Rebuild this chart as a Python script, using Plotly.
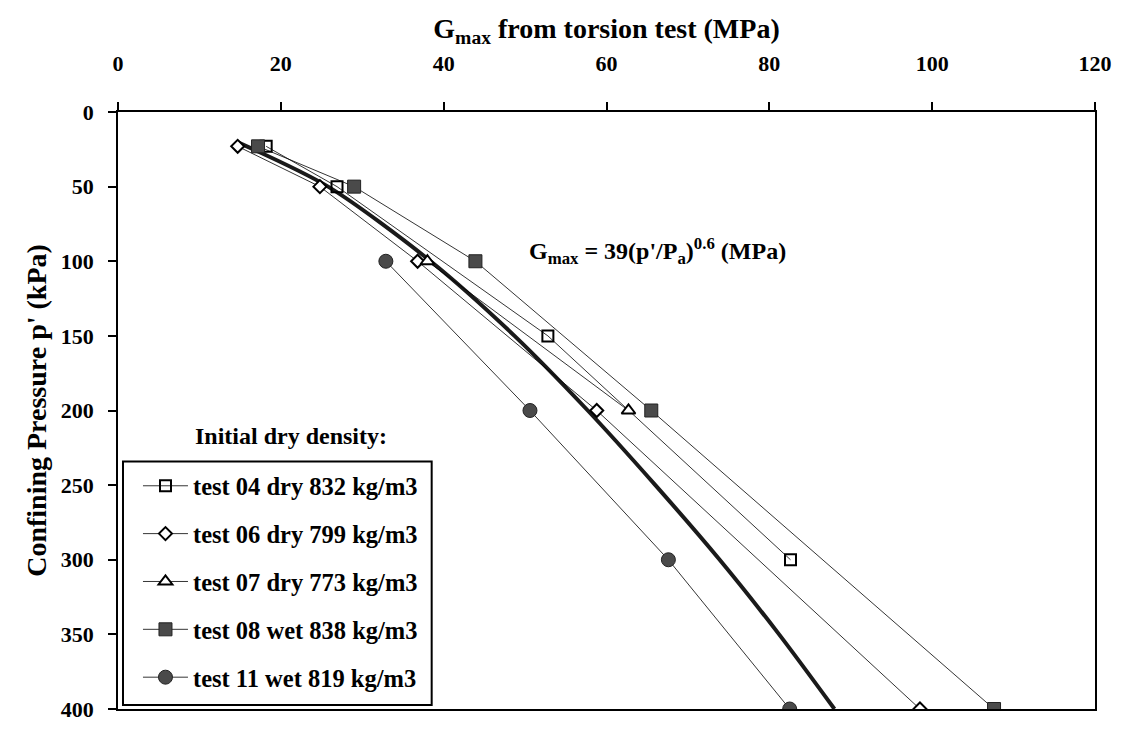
import plotly.graph_objects as go

# ---- data ----
p_04 = [23, 50, 150, 300]
G_04 = [18.2, 26.9, 52.8, 82.6]

p_06 = [23, 50, 100, 200, 400]
G_06 = [14.7, 24.8, 36.8, 58.8, 98.5]

p_07 = [100, 200]
G_07 = [38.0, 62.7]

p_08 = [23, 50, 100, 200, 400]
G_08 = [17.2, 29.0, 43.9, 65.5, 107.6]

p_11 = [100, 200, 300, 400]
G_11 = [32.9, 50.6, 67.6, 82.5]

# fitted curve G = 39 (p'/Pa)^0.6
p_fit = [20, 50, 100, 150, 200, 250, 300, 350, 400]
G_fit = [14.6, 25.8, 38.4, 48.7, 57.7, 66.0, 73.9, 81.2, 88.0]

names = ["test 04 dry 832 kg/m3", "test 06 dry 799 kg/m3", "test 07 dry 773 kg/m3",
         "test 08 wet 838 kg/m3", "test 11 wet 819 kg/m3"]

x_ticks = [0, 20, 40, 60, 80, 100, 120]
y_ticks = [0, 50, 100, 150, 200, 250, 300, 350, 400]

FONT = "Liberation Serif"

W, H = 1121, 731
ML, MR, MT, MB = 118, 25, 112, 9
PW, PH = W - ML - MR, H - MT - MB


def px_x(px):
    return (px - ML) / PW


def px_y(py):
    return (H - MB - py) / PH


fig = go.Figure()

fig.add_trace(go.Scatter(x=G_fit, y=p_fit, mode="lines",
                         line=dict(color="#1a1a1a", width=4, shape="spline", smoothing=0.8),
                         showlegend=False, hoverinfo="skip"))

series = [
    (p_04, G_04, names[0], dict(symbol="square-open", size=11, color="black", line=dict(width=2))),
    (p_06, G_06, names[1], dict(symbol="diamond", size=10, color="white", line=dict(color="black", width=2))),
    (p_07, G_07, names[2], dict(symbol="triangle-up", size=12, color="white", line=dict(color="black", width=2))),
    (p_08, G_08, names[3], dict(symbol="square", size=13, color="#4a4a4a", line=dict(color="#222", width=1))),
    (p_11, G_11, names[4], dict(symbol="circle", size=14, color="#4a4a4a", line=dict(color="#222", width=1))),
]
for i, (p, g, nm, mk) in enumerate(series):
    fig.add_trace(go.Scatter(x=g, y=p, mode="lines+markers", name=nm, legendgroup=f"g{i}",
                             line=dict(color="black", width=0.8), marker=mk))

fig.update_layout(
    width=W, height=H,
    margin=dict(l=ML, r=MR, t=MT, b=MB),
    paper_bgcolor="white", plot_bgcolor="white",
    font=dict(family=FONT, size=22, color="black", weight="bold"),
    xaxis=dict(side="top", range=[0, 120], tickvals=x_ticks, ticks="outside", ticklen=8, tickwidth=1.5,
               tickcolor="black", showline=True, linecolor="black", linewidth=1.8, mirror=True,
               showgrid=False, zeroline=False, ticklabelstandoff=22, ticklabeloverflow="allow",
               tickfont=dict(family=FONT, size=22, weight="bold"),
               title=dict(text="G<sub>max</sub> from torsion test (MPa)", standoff=4,
                          font=dict(family=FONT, size=28, weight="bold"))),
    yaxis=dict(range=[400, 0], tickvals=y_ticks, ticks="outside", ticklen=8, tickwidth=1.5,
               tickcolor="black", showline=True, linecolor="black", linewidth=1.8, mirror=True,
               showgrid=False, zeroline=False, ticklabelstandoff=10, ticklabeloverflow="allow",
               tickfont=dict(family=FONT, size=22, weight="bold"),
               title=dict(text="Confining Pressure p' (kPa)", standoff=6,
                          font=dict(family=FONT, size=28, weight="bold"))),
    xaxis2=dict(overlaying="x", anchor="y", side="top", range=[0, 120], tickvals=x_ticks, ticks="inside",
                ticklen=8, tickwidth=1.5, tickcolor="black", showticklabels=False, showline=False,
                showgrid=False, zeroline=False),
    yaxis2=dict(overlaying="y", anchor="x", side="left", range=[400, 0], tickvals=y_ticks, ticks="inside",
                ticklen=8, tickwidth=1.5, tickcolor="black", showticklabels=False, showline=False,
                showgrid=False, zeroline=False),
    legend=dict(x=px_x(138), y=px_y(471), xanchor="left", yanchor="top", bgcolor="rgba(0,0,0,0)",
                borderwidth=0, traceorder="grouped", tracegroupgap=13,
                itemwidth=45, font=dict(family=FONT, size=24.5, weight="bold")),
    showlegend=True,
    shapes=[
        dict(type="rect", xref="paper", yref="paper", x0=px_x(123), x1=px_x(432), y0=px_y(718), y1=px_y(469),
             line=dict(color="black", width=2), fillcolor="white", layer="below"),
    ],
    annotations=[
        dict(text="G<sub>max</sub> = 39(p'/P<sub>a</sub>)<sup>0.6</sup> (MPa)", x=66.3, y=93, xref="x", yref="y",
             showarrow=False, font=dict(family=FONT, size=24, weight="bold")),
        dict(text="Initial dry density:", x=px_x(291), y=px_y(443), xref="paper", yref="paper",
             xanchor="center", yanchor="middle",
             showarrow=False, font=dict(family=FONT, size=24, weight="bold")),
    ],
)

fig.write_html("out.html", config={"displayModeBar": False},
               post_script="document.body.style.margin='0';document.body.style.overflow='hidden';")
